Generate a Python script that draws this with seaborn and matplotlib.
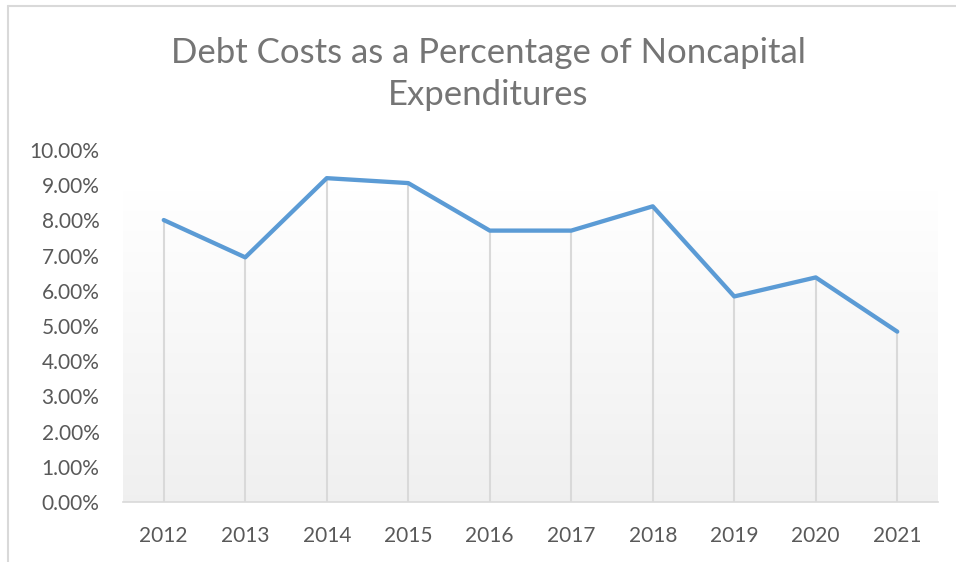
import numpy as np
import pandas as pd
import matplotlib
matplotlib.use("Agg")
import matplotlib.pyplot as plt
import seaborn as sns
from matplotlib.ticker import PercentFormatter
from matplotlib.lines import Line2D

years = ["2012", "2013", "2014", "2015", "2016", "2017", "2018", "2019", "2020", "2021"]
pct = [8.01, 6.95, 9.20, 9.06, 7.71, 7.71, 8.40, 5.84, 6.38, 4.84]
yticks = [0, 1, 2, 3, 4, 5, 6, 7, 8, 9, 10]
title = "Debt Costs as a Percentage of Noncapital\nExpenditures"

sns.set_theme(style="white")
plt.rcParams['font.family'] = ['Lato', 'DejaVu Sans']

df = pd.DataFrame({"year": years, "pct": pct})
df["x"] = np.arange(len(years))

fig = plt.figure(figsize=(9.56, 5.62), dpi=100)
ax = fig.add_axes([123/956, 60/562, (938-123)/956, (502-150)/562])

# gradient background in plot area
grad = np.linspace(1.0, 0.0, 256).reshape(-1, 1)
top_c = np.array([1.0, 1.0, 1.0])
bot_c = np.array([0.94, 0.94, 0.94])
img = grad[..., None] * top_c + (1 - grad[..., None]) * bot_c
ax.imshow(img, extent=[0, 1, 0, (502-190)/(502-150)], transform=ax.transAxes,
          aspect="auto", zorder=0, origin="upper")

ax.vlines(df["x"], 0, df["pct"], colors="#d9d9d9", linewidth=1.5, zorder=1)
sns.lineplot(data=df, x="x", y="pct", ax=ax, color="#5B9BD5", linewidth=3.1,
             zorder=3, legend=False)

ax.set_xlim(-0.5, len(years) - 0.5)
ax.set_ylim(0, 10)
ax.set_xticks(df["x"])
ax.set_xticklabels(years)
ax.set_yticks(yticks)
ax.yaxis.set_major_formatter(PercentFormatter(decimals=2))
ax.set_xlabel("")
ax.set_ylabel("")
for s in ["top", "right", "left"]:
    ax.spines[s].set_visible(False)
ax.spines["bottom"].set_color("#d9d9d9")
ax.spines["bottom"].set_linewidth(1.2)
ax.tick_params(axis="both", length=0, labelsize=15, labelcolor="#595959")
ax.tick_params(axis="y", pad=17)
ax.tick_params(axis="x", pad=17)
ax.grid(False)

fig.text(488/956, 1 - 74/562, title, ha="center", va="center", fontsize=25,
         color="#757575", linespacing=1.35)

# outer border (left and top only visible)
fig.add_artist(Line2D([8/956, 8/956], [0, 1 - 6/562], transform=fig.transFigure,
                      color="#d9d9d9", linewidth=1.5))
fig.add_artist(Line2D([8/956, 1], [1 - 6/562, 1 - 6/562], transform=fig.transFigure,
                      color="#d9d9d9", linewidth=1.5))

fig.savefig("out.png", dpi=100)
